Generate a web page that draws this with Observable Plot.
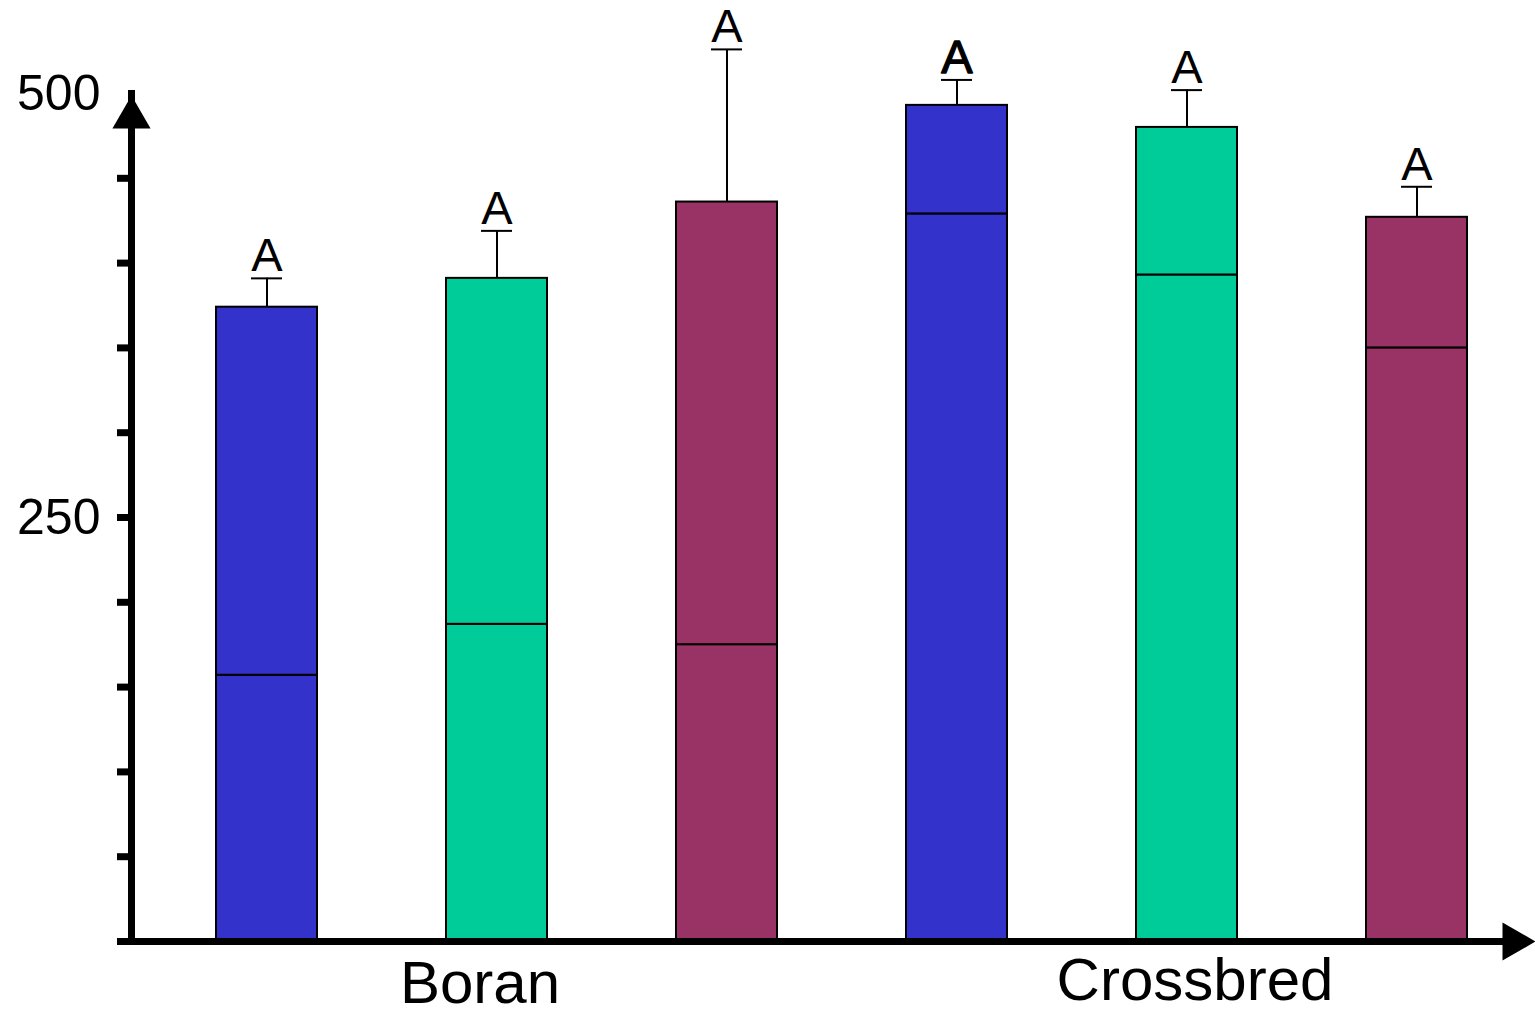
<!DOCTYPE html>
<html>
<head>
<meta charset="utf-8">
<script src="https://cdn.jsdelivr.net/npm/d3@7"></script>
<script src="https://cdn.jsdelivr.net/npm/@observablehq/plot@0.6"></script>
<style>
  html, body { margin: 0; padding: 0; background: #fff; }
  #chart svg { display: block; }
</style>
</head>
<body>
<div id="chart"></div>
<script>
// ---- Data ----
const categories = ["Boran 1", "Boran 2", "Boran 3", "Crossbred 1", "Crossbred 2", "Crossbred 3"];
const treatments = ["T1", "T2", "T3", "T1", "T2", "T3"];
const lowerValues = [157, 187, 175, 429, 393, 350];
const totalValues = [374, 391, 436, 493, 480, 427];
const errorTops = [391, 419, 526, 508, 502, 445];
const letters = ["A", "A", "A", "A", "A", "A"];
const treatmentNames = ["T1", "T2", "T3"];
const treatmentColors = ["#3333CC", "#00CC99", "#993366"];
const yMinorTicks = [50, 100, 150, 200, 250, 300, 350, 400, 450];
const yTickLabels = [250, 500];
const groupNames = ["Boran", "Crossbred"];
const groupMiddleBars = ["Boran 2", "Crossbred 2"];

// ---- Derived tables ----
const segments = [];
categories.forEach((c, i) => {
  segments.push({cat: c, trt: treatments[i], value: lowerValues[i]});
  segments.push({cat: c, trt: treatments[i], value: totalValues[i] - lowerValues[i]});
});
const bars = categories.map((c, i) => ({cat: c, top: totalValues[i], err: errorTops[i], letter: letters[i]}));
const groupsTbl = groupNames.map((g, i) => ({name: g, cat: groupMiddleBars[i]}));

const font = "'Liberation Sans', Arial, Helvetica, sans-serif";

const chart = Plot.plot({
  width: 1535,
  height: 1014,
  marginLeft: 131,
  marginRight: 25,
  marginTop: 93,
  marginBottom: 73,
  style: {fontFamily: font, background: "#fff", color: "#000"},
  x: {type: "band", domain: categories, range: [213.4, 1468.4], paddingInner: 0.5624, paddingOuter: 0, axis: null},
  y: {domain: [0, 500], nice: false},
  color: {domain: treatmentNames, range: treatmentColors},
  marks: [
    Plot.barY(segments, {x: "cat", y: "value", fill: "trt", stroke: "black", strokeWidth: 2, inset: 0}),
    Plot.ruleX(bars, {x: "cat", y1: "top", y2: "err", stroke: "black", strokeWidth: 2}),
    Plot.tickY(bars, {x: "cat", y: "err", stroke: "black", strokeWidth: 2, insetLeft: 35, insetRight: 35}),
    Plot.text(bars.filter(d => d.cat !== "Crossbred 1"), {x: "cat", y: "err", text: "letter", lineAnchor: "bottom", dy: -7, fontSize: 47, fill: "black"}),
    Plot.text(bars.filter(d => d.cat === "Crossbred 1"), {x: "cat", y: "err", text: "letter", lineAnchor: "bottom", dy: -7, fontSize: 47, fill: "black", stroke: "black", strokeWidth: 1.3}),
    // axes
    Plot.frame({anchor: "left", stroke: "black", strokeWidth: 7}),
    Plot.ruleY([0], {stroke: "black", strokeWidth: 7, insetLeft: -14}),
    Plot.axisY({ticks: yMinorTicks, tickSize: 14, strokeWidth: 7, tickFormat: () => "", label: null}),
    Plot.axisY({ticks: yTickLabels, tickSize: 0, tickPadding: 31, fontSize: 50, tickFormat: d => String(d), label: null, fill: "black"}),
    Plot.dot([{}], {x: null, y: null, frameAnchor: "top-left", symbol: "triangle2", r: 18.2, fill: "black", stroke: null, dy: 24}),
    Plot.dot([{}], {x: null, y: null, frameAnchor: "bottom-right", symbol: "triangle2", r: 18.2, fill: "black", stroke: null, rotate: 90, dx: 3}),
    // group labels
    Plot.text(groupsTbl.filter(d => d.name === "Boran"), {x: "cat", y: () => 0, text: "name", lineAnchor: "bottom", dy: 61, dx: -17, fontSize: 60, fill: "black"}),
    Plot.text(groupsTbl.filter(d => d.name === "Crossbred"), {x: "cat", y: () => 0, text: "name", lineAnchor: "bottom", dy: 58, dx: 8, fontSize: 60, fill: "black"})
  ]
});
document.getElementById("chart").appendChild(chart);
</script>
</body>
</html>
